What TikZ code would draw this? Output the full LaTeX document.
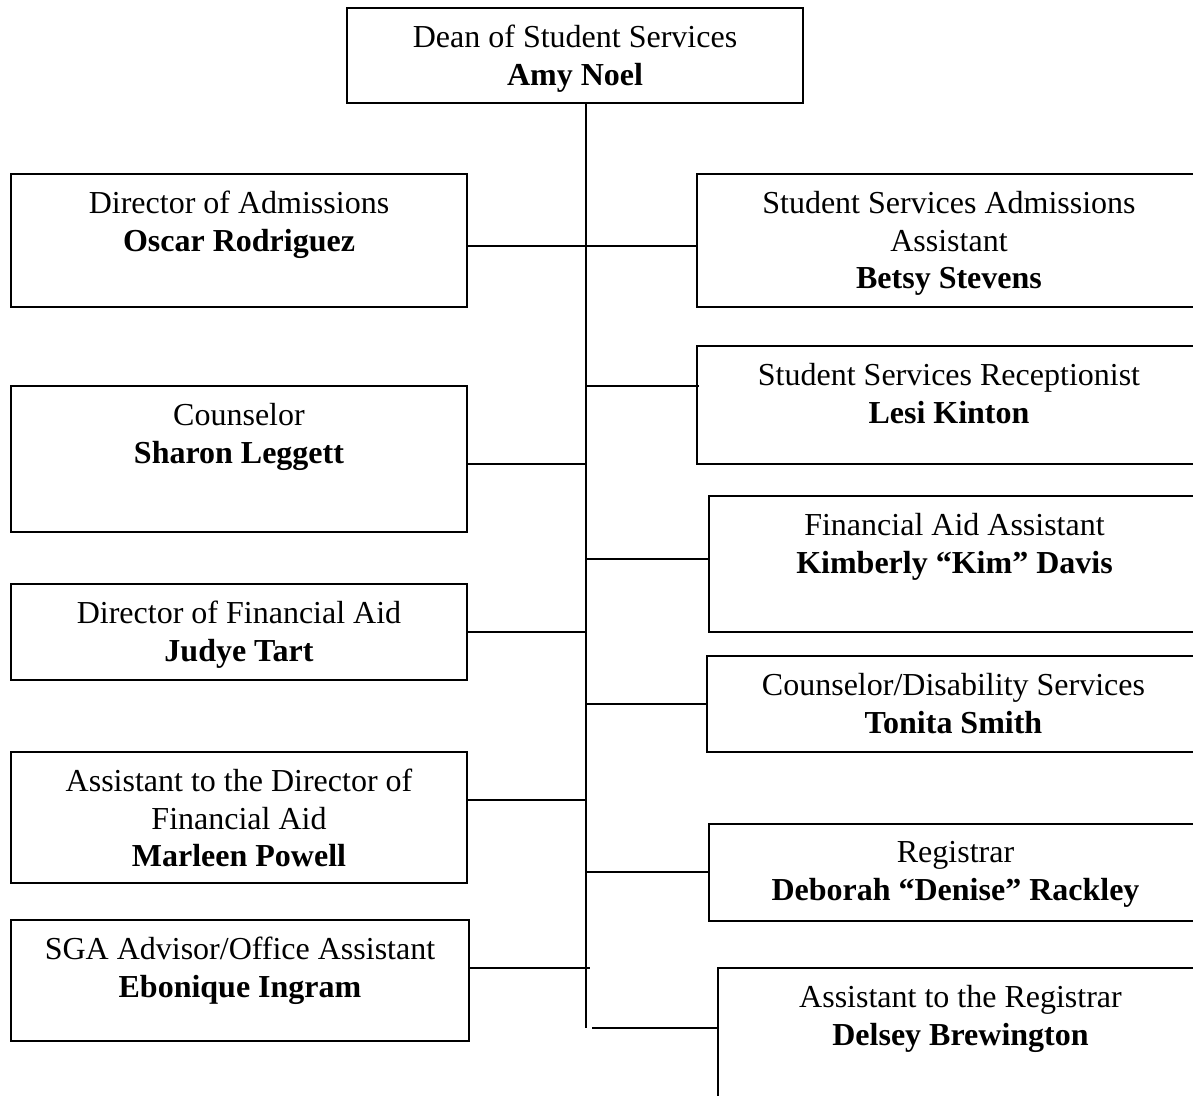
\documentclass[tikz,border=0pt]{standalone}
\usepackage{fontspec}
\setmainfont{Liberation Serif}
\usetikzlibrary{fit}
\tikzset{
  orgbox/.style={draw, line width=1pt, inner sep=0pt},
  orgtext/.style={anchor=north, inner sep=0pt, align=center,
    font=\fontsize{16}{18.75}\selectfont},
  link/.style={line width=1pt}
}
\begin{document}
\begin{tikzpicture}[x=0.5pt, y=-0.5pt]
\useasboundingbox (0,0) rectangle (1193,1096);
\clip (0,0) rectangle (1193,1096);

% head of the unit
\node[orgbox, fit={(347,8) (803,103)}] (dean) {};
\node[orgtext] at ([yshift=-9pt]dean.north) {Dean of Student Services\\\textbf{Amy Noel}};

% left column
\node[orgbox, fit={(11,174) (467,307)}] (adm) {};
\node[orgtext] at ([yshift=-9pt]adm.north) {Director of Admissions\\\textbf{Oscar Rodriguez}};
\node[orgbox, fit={(11,386) (467,532)}] (couns) {};
\node[orgtext] at ([yshift=-9pt]couns.north) {Counselor\\\textbf{Sharon Leggett}};
\node[orgbox, fit={(11,584) (467,680)}] (finaid) {};
\node[orgtext] at ([yshift=-9pt]finaid.north) {Director of Financial Aid\\\textbf{Judye Tart}};
\node[orgbox, fit={(11,752) (467,883)}] (finasst) {};
\node[orgtext] at ([yshift=-9pt]finasst.north) {Assistant to the Director of\\Financial Aid\\\textbf{Marleen Powell}};
\node[orgbox, fit={(11,920) (469,1041)}] (sga) {};
\node[orgtext] at ([yshift=-9pt]sga.north) {SGA Advisor/Office Assistant\\\textbf{Ebonique Ingram}};

% right column (boxes run past the right edge)
\node[orgbox, fit={(697,174) (1201,307)}] (admasst) {};
\node[orgtext] at ([yshift=-9pt]admasst.north) {Student Services Admissions\\Assistant\\\textbf{Betsy Stevens}};
\node[orgbox, fit={(697,346) (1201,464)}] (recep) {};
\node[orgtext] at ([yshift=-9pt]recep.north) {Student Services Receptionist\\\textbf{Lesi Kinton}};
\node[orgbox, fit={(709,496) (1200,632)}] (faasst) {};
\node[orgtext] at ([yshift=-9pt]faasst.north) {Financial Aid Assistant\\\textbf{Kimberly “Kim” Davis}};
\node[orgbox, fit={(707,656) (1200,752)}] (disab) {};
\node[orgtext] at ([yshift=-9pt]disab.north) {Counselor/Disability Services\\\textbf{Tonita Smith}};
\node[orgbox, fit={(709,824) (1202,921)}] (reg) {};
\node[orgtext] at ([yshift=-9pt]reg.north) {Registrar\\\textbf{Deborah “Denise” Rackley}};
\node[orgbox, fit={(718,968) (1203,1130)}] (regasst) {};
\node[orgtext] at ([yshift=-9pt]regasst.north) {Assistant to the Registrar\\\textbf{Delsey Brewington}};

% vertical trunk
\coordinate (trunkend) at (586,1028);
\draw[link] (dean.south -| trunkend) -- (trunkend);

% branches
\draw[link] (adm.east |- 0,246) -- (admasst.west |- 0,246);
\draw[link] (trunkend |- 0,386) -- ([xshift=1.5pt]recep.west |- 0,386);
\draw[link] (couns.east |- 0,464) -- (trunkend |- 0,464);
\draw[link] (trunkend |- 0,559) -- (faasst.west |- 0,559);
\draw[link] (finaid.east |- 0,632) -- (trunkend |- 0,632);
\draw[link] (trunkend |- 0,704) -- (disab.west |- 0,704);
\draw[link] (finasst.east |- 0,800) -- (trunkend |- 0,800);
\draw[link] (trunkend |- 0,872) -- (reg.west |- 0,872);
\draw[link] (sga.east |- 0,968) -- ([xshift=2pt]trunkend |- 0,968);
\draw[link] ([xshift=3pt]trunkend) -- (regasst.west |- trunkend);
\end{tikzpicture}
\end{document}
